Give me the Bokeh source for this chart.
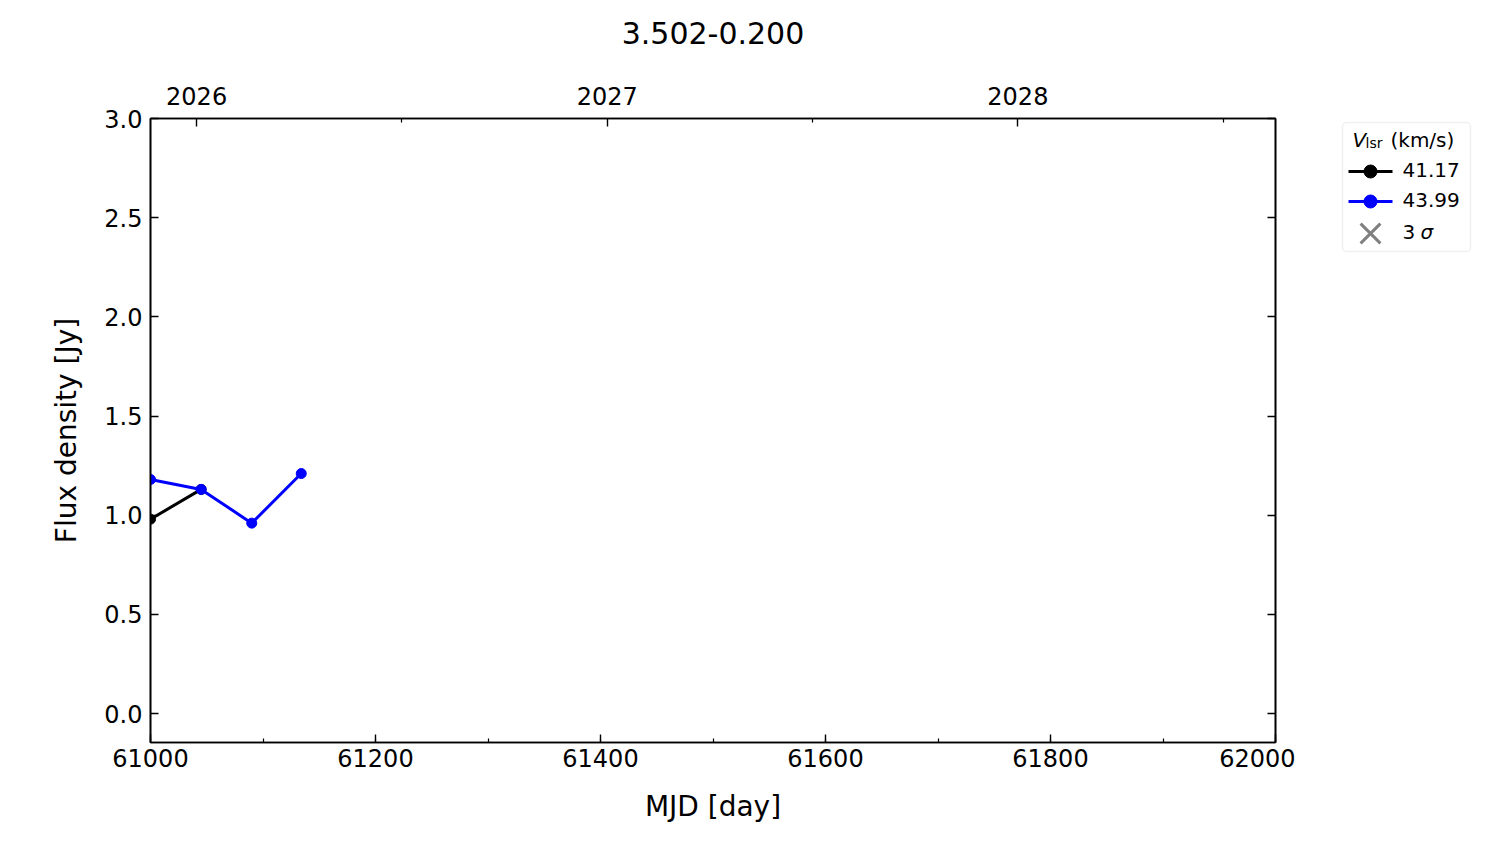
from datetime import date

from bokeh.plotting import figure
from bokeh.layouts import row
from bokeh.models import (Range1d, LinearAxis, FixedTicker, SingleIntervalTicker,
                          NumeralTickFormatter, CustomJSTickFormatter, BoxAnnotation)
from bokeh.core.properties import value
from bokeh.embed import file_html
from bokeh.resources import INLINE

# ---------------- data ----------------
chart_title = "3.502-0.200"
mjd_black = [61000, 61045]
flux_black = [0.98, 1.13]
mjd_blue = [61000, 61045, 61090, 61134]
flux_blue = [1.18, 1.13, 0.96, 1.21]
vlsr_labels = ["41.17", "43.99"]
series_colors = ["black", "blue"]
sigma_n, sigma_sym = "3", "σ"
years = [2026, 2027, 2028]
x_start, x_end = 61000, 62000
y_start, y_end = -0.146, 3.0

MJD0 = date(1858, 11, 17)


def to_mjd(d):
    return (d - MJD0).days


year_ticks = [to_mjd(date(y, 1, 1)) for y in years]
year_minor = [to_mjd(date(y, 7, 2)) for y in years]

FONT = "DejaVu Sans"

MAIN_W, H = 1295, 836
FR_TOP, FR_BOT = 118, 742
p = figure(width=MAIN_W, height=H, output_backend="svg", toolbar_location=None,
           title=None,
           x_range=Range1d(x_start, x_end), y_range=Range1d(y_start, y_end),
           x_axis_location=None, y_axis_location=None,
           min_border_left=150, min_border_right=MAIN_W - 1275,
           min_border_top=FR_TOP, min_border_bottom=H - FR_BOT)
p.xgrid.visible = False
p.ygrid.visible = False
p.outline_line_color = "black"
p.outline_line_width = 1.6
p.background_fill_color = "white"
p.border_fill_color = "white"


def style(ax):
    ax.axis_line_color = "black"
    ax.axis_line_width = 1.6
    ax.major_tick_in = 8
    ax.major_tick_out = 0
    ax.minor_tick_in = 4
    ax.minor_tick_out = 0
    ax.major_tick_line_width = 1.4
    ax.minor_tick_line_width = 1.2
    ax.major_tick_line_color = "black"
    ax.minor_tick_line_color = "black"
    ax.major_label_text_font = FONT
    ax.major_label_text_font_size = "24px"
    ax.major_label_text_color = "black"
    ax.axis_label_text_font = FONT
    ax.axis_label_text_font_size = "28px"
    ax.axis_label_text_font_style = "normal"
    ax.axis_label_text_color = "black"


bottom = LinearAxis(ticker=SingleIntervalTicker(interval=200, num_minor_ticks=2),
                    formatter=NumeralTickFormatter(format="0"),
                    axis_label="MJD [day]")
style(bottom)
bottom.major_label_standoff = 6
bottom.axis_label_standoff = 20
p.add_layout(bottom, "below")

left = LinearAxis(ticker=SingleIntervalTicker(interval=0.5, num_minor_ticks=0),
                  formatter=NumeralTickFormatter(format="0.0"),
                  axis_label="Flux density [Jy]")
style(left)
left.major_label_standoff = 8
left.axis_label_standoff = 18
p.add_layout(left, "left")

# top axis: year ticks, with the chart title as its label
top = LinearAxis(ticker=FixedTicker(ticks=year_ticks, minor_ticks=year_minor),
                 major_label_overrides={t: str(y) for t, y in zip(year_ticks, years)},
                 axis_label=chart_title)
style(top)
top.major_label_standoff = 14
top.axis_label_text_font_size = "30px"
top.axis_label_standoff = 40
p.add_layout(top, "above")

right = LinearAxis(ticker=SingleIntervalTicker(interval=0.5, num_minor_ticks=0),
                   formatter=CustomJSTickFormatter(code="return ''"))
style(right)
p.add_layout(right, "right")

# ---------------- glyphs ----------------
p.scatter(mjd_black, flux_black, marker="x", size=9, line_color="gray", line_width=1.5)
p.line(mjd_black, flux_black, line_color=series_colors[0], line_width=3)
p.scatter(mjd_black, flux_black, marker="circle", size=10,
          fill_color=series_colors[0], line_color=series_colors[0])
p.scatter(mjd_blue, flux_blue, marker="x", size=9, line_color="gray", line_width=1.5)
p.line(mjd_blue, flux_blue, line_color=series_colors[1], line_width=3)
p.scatter(mjd_blue, flux_blue, marker="circle", size=10,
          fill_color=series_colors[1], line_color=series_colors[1])

# ---------------- legend panel (page-pixel coordinates) ----------------
LEG_W = 200
q = figure(width=LEG_W, height=H, output_backend="svg", toolbar_location=None,
           title=None,
           x_range=Range1d(MAIN_W, MAIN_W + LEG_W), y_range=Range1d(FR_BOT, FR_TOP),
           x_axis_location=None, y_axis_location=None,
           min_border_left=0, min_border_right=0,
           min_border_top=FR_TOP, min_border_bottom=H - FR_BOT)
q.xgrid.visible = False
q.ygrid.visible = False
q.outline_line_color = None
q.background_fill_color = "white"
q.border_fill_color = "white"

q.add_layout(BoxAnnotation(left=1342, right=1470, top=122, bottom=251,
                           fill_color=None, level="underlay",
                           line_color="#cccccc", line_width=1.5, border_radius=4))

q.text([1352], [139], text=["V"], text_font=value(FONT), text_font_size="20px",
       text_font_style="italic", text_baseline="alphabetic", text_color="black")
q.text([1365], [142], text=["lsr"], text_font=value(FONT), text_font_size="14px",
       text_baseline="alphabetic", text_color="black")
q.text([1390], [139], text=["(km/s)"], text_font=value(FONT), text_font_size="20px",
       text_baseline="alphabetic", text_color="black")

row_y = [171, 201]
for yy, lab, col in zip(row_y, vlsr_labels, series_colors):
    q.line([1348, 1392], [yy, yy], line_color=col, line_width=3)
    q.scatter([1370], [yy], marker="circle", size=13, fill_color=col, line_color=col)
    q.text([1402], [yy - 1.5], text=[lab], text_font=value(FONT), text_font_size="20px",
           text_baseline="middle", text_color="black")

q.scatter([1370], [233], marker="x", size=28, line_color="gray", line_width=3)
q.text([1402], [231], text=[sigma_n], text_font=value(FONT), text_font_size="20px",
       text_baseline="middle", text_color="black")
q.text([1420], [231], text=[sigma_sym], text_font=value(FONT), text_font_size="20px",
       text_font_style="italic", text_baseline="middle", text_color="black")

layout = row(p, q)
open("out.html", "w").write(file_html(layout, INLINE))
